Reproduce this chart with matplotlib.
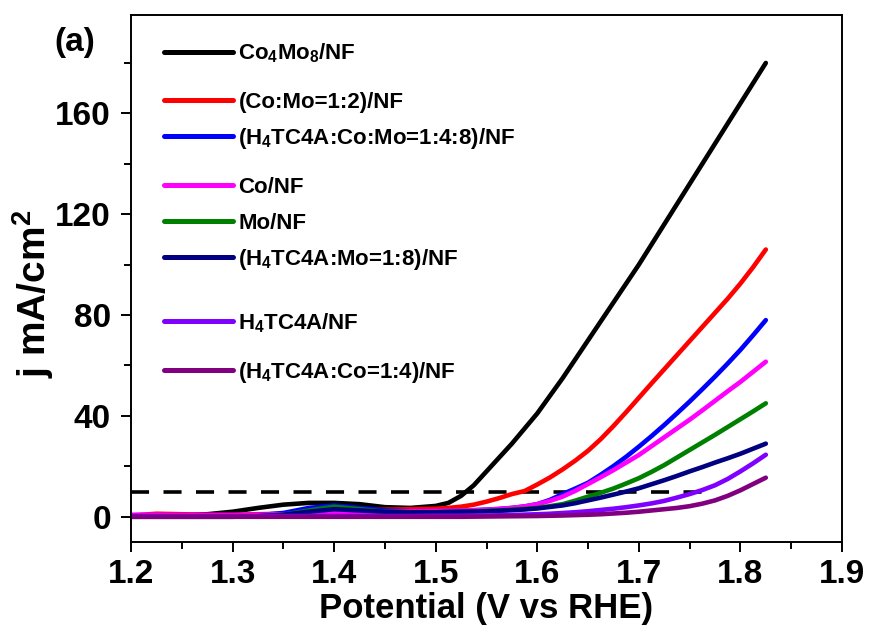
import matplotlib
matplotlib.use("Agg")
import matplotlib.pyplot as plt
from matplotlib.ticker import MultipleLocator

plt.rcParams['font.family'] = ['Liberation Sans', 'DejaVu Sans']
plt.rcParams['font.weight'] = 'bold'
plt.rcParams['axes.labelweight'] = 'bold'
plt.rcParams['mathtext.fontset'] = 'custom'
plt.rcParams['mathtext.default'] = 'bf'
plt.rcParams['mathtext.bf'] = 'Liberation Sans:bold'
plt.rcParams['mathtext.rm'] = 'Liberation Sans:bold'

# potential (V vs RHE)
V = [1.200, 1.225, 1.250, 1.275, 1.300, 1.325, 1.350, 1.375, 1.400, 1.425,
     1.450, 1.475,
     1.500, 1.5125, 1.525, 1.5375, 1.550, 1.5625, 1.575, 1.5875, 1.600,
     1.6125, 1.625, 1.6375, 1.650, 1.6625, 1.675, 1.6875, 1.700, 1.7125,
     1.725, 1.7375, 1.750, 1.7625, 1.775, 1.7875, 1.800, 1.8125, 1.825]

# current density (mA/cm2)
co4mo8 = [0.3, 0.4, 0.6, 1.0, 2.0, 3.5, 4.8, 5.5, 5.5, 5.0, 3.8, 3.5,
          4.3, 5.5, 8.3, 12.5, 18, 23.5, 29, 35, 41,
          48, 55, 62.5, 70, 77.5, 85, 92.5, 100, 108,
          116, 124, 132, 140, 148, 156, 164, 172, 180]
co_mo_12 = [0.5, 1.2, 1.0, 0.8, 0.8, 1.0, 1.2, 1.5, 2.0, 2.5, 2.8, 3.0,
            3.2, 3.5, 4.0, 4.8, 6.0, 7.4, 9.0, 10.2, 12.8,
            15.6, 18.8, 22.3, 26.2, 30.8, 36, 41.5, 47.2, 52.9,
            58.5, 64.1, 69.7, 75.3, 80.9, 86.5, 92.5, 99, 106]
h4_co_mo = [0.3, 0.3, 0.3, 0.3, 0.4, 0.6, 1.5, 3.5, 4.5, 3.5, 2.5, 2.2,
            2.2, 2.3, 2.4, 2.6, 2.8, 3.1, 3.5, 4.1, 5.0,
            6.7, 9.0, 11.2, 13.5, 16.7, 20.1, 23.8, 27.8, 32.0,
            36.4, 41.0, 45.7, 50.6, 55.6, 60.8, 66.2, 72, 78]
co_nf = [0.8, 0.8, 0.7, 0.7, 0.7, 0.8, 1.0, 1.2, 1.5, 1.8, 2.0, 2.2,
         2.3, 2.4, 2.5, 2.6, 2.8, 3.1, 3.5, 4.1, 5.0,
         6.3, 8.0, 10.3, 13, 15.7, 18.5, 21.5, 24.5, 28,
         31.5, 35, 38.5, 42.2, 46, 49.8, 53.5, 57.5, 61.5]
mo_nf = [0, 0, 0, 0, 0, 0.2, 0.8, 2.5, 4.0, 3.0, 2.0, 1.8,
         1.8, 1.9, 2.0, 2.1, 2.3, 2.5, 2.8, 3.1, 3.5,
         4.2, 5.0, 6.4, 8.0, 9.5, 11.2, 13.2, 15.3, 17.8,
         20.5, 23.5, 26.5, 29.5, 32.5, 35.6, 38.7, 41.8, 45]
h4_mo = [0, 0, 0, 0, 0, 0.2, 0.8, 2.0, 3.0, 2.5, 2.0, 1.8,
         1.8, 1.9, 2.0, 2.1, 2.2, 2.4, 2.6, 2.9, 3.3,
         3.9, 4.5, 5.4, 6.5, 7.6, 8.8, 10, 11.3, 12.9,
         14.5, 16.2, 18, 19.7, 21.5, 23.2, 25, 27, 29]
h4tc4a = [0.3, 0.3, 0.3, 0.3, 0.3, 0.3, 0.3, 0.3, 0.3, 0.3, 0.3, 0.3,
          0.4, 0.4, 0.4, 0.45, 0.5, 0.6, 0.7, 0.85, 1.0,
          1.2, 1.5, 1.8, 2.2, 2.7, 3.2, 3.8, 4.5, 5.3,
          6.3, 7.6, 9.0, 10.6, 12.5, 15.0, 18, 21.2, 24.6]
h4_co = [0, 0, 0, 0, 0, 0, 0, 0, 0, 0, 0, 0,
         0, 0, 0, 0.05, 0.1, 0.15, 0.2, 0.25, 0.3,
         0.4, 0.5, 0.65, 0.8, 1.0, 1.3, 1.6, 2.0, 2.5,
         3.0, 3.5, 4.2, 5.2, 6.5, 8.3, 10.5, 13, 15.5]

labels = [r'Co$_4$Mo$_8$/NF', '(Co:Mo=1:2)/NF', r'(H$_4$TC4A:Co:Mo=1:4:8)/NF',
          'Co/NF', 'Mo/NF', r'(H$_4$TC4A:Mo=1:8)/NF', r'H$_4$TC4A/NF',
          r'(H$_4$TC4A:Co=1:4)/NF']
series = [co4mo8, co_mo_12, h4_co_mo, co_nf, mo_nf, h4_mo, h4tc4a, h4_co]
colors = ['#000000', '#ff0000', '#0000ff', '#ff00ff', '#008000', '#000080',
          '#8000ff', '#800080']

# 10 mA/cm2 reference
ref_x = [1.2, 1.775]
ref_y = [10, 10]

# legend rows (axes fraction), spaced unevenly like the original
leg_y = [0.930, 0.839, 0.770, 0.677, 0.609, 0.541, 0.419, 0.326]

fig = plt.figure(figsize=(8.7, 6.27), dpi=100)
ax = fig.add_axes([0.1506, 0.1356, 0.8172, 0.8404])

ax.plot(ref_x, ref_y, color='black', linestyle=(0, (5, 4)), linewidth=2.6)
for y, c in zip(series, colors):
    ax.plot(V, y, color=c, linewidth=3.3, solid_capstyle='round',
            solid_joinstyle='round')

# hand-placed legend
for ly, lab, c in zip(leg_y, labels, colors):
    ax.plot([0.046, 0.143], [ly, ly], color=c, linewidth=3.6,
            solid_capstyle='round', transform=ax.transAxes)
    ax.text(0.151, ly - 0.0150, lab, transform=ax.transAxes, fontsize=16,
            fontweight='bold', va='baseline', ha='left')

ax.set_xlim(1.2, 1.9)
ax.set_ylim(-10, 199)
ax.xaxis.set_major_locator(MultipleLocator(0.1))
ax.xaxis.set_minor_locator(MultipleLocator(0.05))
ax.yaxis.set_major_locator(MultipleLocator(40))
ax.yaxis.set_minor_locator(MultipleLocator(20))
ax.tick_params(which='major', direction='out', length=7.5, width=1.4, labelsize=24)
ax.tick_params(which='minor', direction='out', length=5, width=1.4)
ax.tick_params(axis='x', which='major', pad=5)
ax.tick_params(axis='y', which='major', pad=7)
for s in ax.spines.values():
    s.set_linewidth(1.4)

ax.set_xlabel('Potential (V vs RHE)', fontsize=25, labelpad=1)
ax.set_ylabel(r'j mA/cm$^2$', fontsize=28)
ax.yaxis.set_label_coords(-0.105, 0.47)

fig.text(0.063, 0.918, '(a)', fontsize=24, fontweight='bold')

fig.savefig('out.png', dpi=100)
